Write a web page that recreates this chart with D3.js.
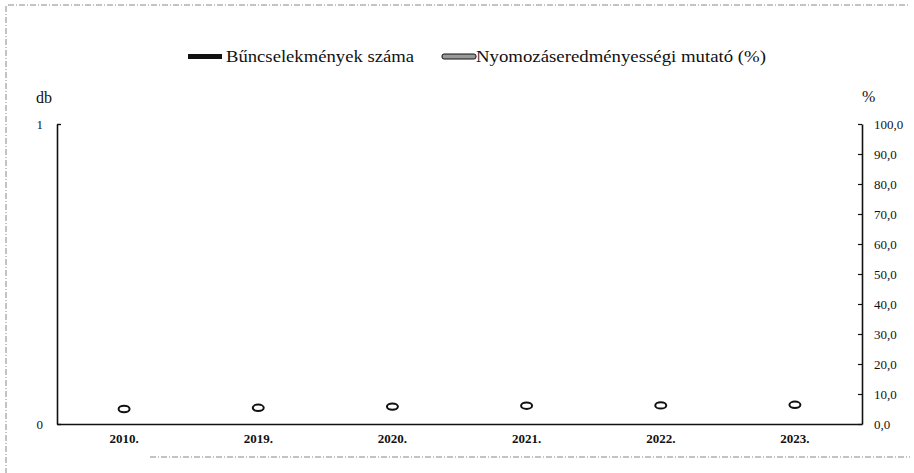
<!DOCTYPE html>
<html>
<head>
<meta charset="utf-8">
<script src="https://cdn.jsdelivr.net/npm/d3@7"></script>
<style>
  body { margin: 0; background: #fff; }
  svg text { font-family: "Liberation Serif", "DejaVu Serif", serif; fill: #111; }
</style>
</head>
<body>
<div id="chart"></div>
<script>
const
  width = 914,
  height = 473,
  margin = { top: 124, bottom: 49, left: 57, right: 52 };

// data
var years = ["2010.", "2019.", "2020.", "2021.", "2022.", "2023."]
var crimeCount = [0, 0, 0, 0, 0, 0]
var clearanceRate = [5.0, 5.4, 5.8, 6.1, 6.2, 6.4]
var leftTicks = [0, 1]
var rightTicks = [0, 10, 20, 30, 40, 50, 60, 70, 80, 90, 100]

var svg = d3
      .select("#chart")
      .append("svg")
      .attr("width", width)
      .attr("height", height)

// dashed frame from the scan
var frame = svg.append("g")
      .attr("fill", "none")
      .attr("stroke", "#888")
      .attr("stroke-width", 1)
      .attr("stroke-dasharray", "6,2,1,2")
frame.append("line").attr("x1", 8).attr("y1", 5).attr("x2", 910).attr("y2", 5)
frame.append("line").attr("x1", 6).attr("y1", 6).attr("x2", 6).attr("y2", 473)
frame.append("line").attr("x1", 150).attr("y1", 457).attr("x2", 910).attr("y2", 457)

var x = d3
      .scaleBand()
      .domain(years)
      .range([margin.left, width - margin.right])

var yLeft = d3
      .scaleLinear()
      .domain([0, 1])
      .range([height - margin.bottom, margin.top])

var yRight = d3
      .scaleLinear()
      .domain([0, 100])
      .range([height - margin.bottom, margin.top])

// bars (all zero)
svg.append("g")
  .selectAll("rect")
  .data(crimeCount)
  .enter()
  .append("rect")
    .attr("x", (d, i) => x(years[i]) + x.bandwidth() * 0.25)
    .attr("y", d => yLeft(d))
    .attr("width", x.bandwidth() * 0.5)
    .attr("height", d => yLeft(0) - yLeft(d))
    .attr("fill", "#111")

// left axis
var leftAxis = svg.append("g")
      .attr("transform", `translate(${margin.left},0)`)
      .call(d3.axisLeft(yLeft).tickValues(leftTicks).tickFormat(d3.format("d")).tickSize(-4).tickSizeOuter(0).tickPadding(14))
leftAxis.select(".domain").attr("stroke", "#111").attr("stroke-width", 1.6)
leftAxis.selectAll(".tick line").attr("stroke", "#111").attr("stroke-width", 1.4)
leftAxis.selectAll("text").attr("fill", "#111").style("font-size", "13px")

// right axis
var rightAxis = svg.append("g")
      .attr("transform", `translate(${width - margin.right},0)`)
      .call(d3.axisRight(yRight).tickValues(rightTicks).tickFormat(d => d3.format(".1f")(d).replace(".", ",")).tickSize(-4).tickSizeOuter(0).tickPadding(12))
rightAxis.select(".domain").attr("stroke", "#111").attr("stroke-width", 1.6)
rightAxis.selectAll(".tick line").attr("stroke", "#111").attr("stroke-width", 1.2)
rightAxis.selectAll("text").attr("fill", "#111").style("font-size", "13px")

// bottom axis
var xAxis = svg.append("g")
      .attr("transform", `translate(0,${height - margin.bottom})`)
      .call(d3.axisBottom(x).tickSize(0).tickPadding(10))
xAxis.select(".domain").attr("stroke", "#111").attr("stroke-width", 1.6)
xAxis.selectAll("text").attr("fill", "#111").style("font-size", "13px").style("font-weight", "bold")

// clearance rate markers
svg.append("g")
  .selectAll("ellipse")
  .data(clearanceRate)
  .enter()
  .append("ellipse")
    .attr("cx", (d, i) => x(years[i]) + x.bandwidth() / 2)
    .attr("cy", d => yRight(d))
    .attr("rx", 5.5)
    .attr("ry", 3.2)
    .attr("fill", "#fff")
    .attr("stroke", "#111")
    .attr("stroke-width", 2)

// axis titles
svg.append("text")
  .attr("x", 36).attr("y", 103)
  .style("font-size", "16px")
  .text("db")

svg.append("text")
  .attr("x", 862).attr("y", 102)
  .style("font-size", "16px")
  .text("%")

// legend
svg.append("rect")
  .attr("x", 188).attr("y", 54)
  .attr("width", 34).attr("height", 5)
  .attr("fill", "#111")

svg.append("text")
  .attr("x", 226).attr("y", 62)
  .attr("textLength", 188)
  .attr("lengthAdjust", "spacingAndGlyphs")
  .style("font-size", "17px")
  .text("Bűncselekmények száma")

svg.append("rect")
  .attr("x", 442).attr("y", 54)
  .attr("width", 34).attr("height", 5)
  .attr("rx", 2)
  .attr("fill", "#999")
  .attr("stroke", "#111")
  .attr("stroke-width", 1)

svg.append("text")
  .attr("x", 476).attr("y", 62)
  .attr("textLength", 290)
  .attr("lengthAdjust", "spacingAndGlyphs")
  .style("font-size", "17px")
  .text("Nyomozáseredményességi mutató (%)")
</script>
</body>
</html>
